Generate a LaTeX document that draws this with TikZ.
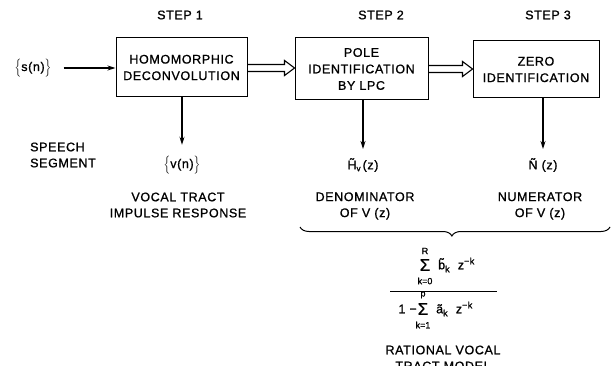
\documentclass[tikz,border=0pt]{standalone}
\usepackage{fontspec}
\setmainfont{Liberation Sans}[LetterSpace=5, FakeBold=1]
\newfontfamily\tightfont{Liberation Sans}[FakeBold=1]
\usetikzlibrary{arrows.meta,decorations.pathreplacing,calc}
\tikzset{
  lbl/.style={font=\fontsize{12.5}{16}\selectfont, align=center, inner sep=0pt},
  blk/.style={draw, line width=1pt, rectangle, font=\fontsize{12.5}{16.5}\selectfont, align=center, inner sep=0pt},
  arr/.style={line width=1.3pt, -{Stealth[length=8pt,width=5pt]}},
  fat/.style={line width=1.1pt},
  mth/.style={font=\fontsize{12.5}{14}\selectfont, inner sep=0pt},
  sm/.style={font=\tightfont\fontsize{9}{9}\selectfont, inner sep=0pt},
  sig/.style={font=\tightfont\fontsize{17}{17}\selectfont, inner sep=0pt},
}
\begin{document}
\begin{tikzpicture}[x=1pt,y=1pt]
\useasboundingbox (0,0) rectangle (615,-366);
% step titles
\node[lbl] (st1) at (180,-15) {STEP 1};
\node[lbl] (st2) at (381,-15) {STEP 2};
\node[lbl] (st3) at (548,-15) {STEP 3};
% boxes
\node[blk, minimum width=131pt, minimum height=59pt] (b1) at (181.5,-67.5) {HOMOMORPHIC\\DECONVOLUTION};
\node[blk, minimum width=133pt, minimum height=62pt] (b2) at (361.5,-69) {POLE\\IDENTIFICATION\\BY LPC};
\node[blk, minimum width=126pt, minimum height=57pt] (b3) at (536,-69.5) {ZERO\\IDENTIFICATION};
% input
\node[mth] (s) at (33,-68) {$\Bigl\{$s(n)$\Bigr\}$};
\draw[arr, shorten <=12pt] (s) -- (b1.west |- s);
% hollow arrows
\foreach \a/\b/\y in {b1/b2/-68, b2/b3/-69}{
  \coordinate (p) at (\a.east |- 0,\y);
  \coordinate (q) at (\b.west |- 0,\y);
  \draw[fat, line join=miter] ($(p)+(0,3.5)$) -- ($(q)+(-10,3.5)$) -- ($(q)+(-10,7.5)$) -- (q)
     -- ($(q)+(-10,-7.5)$) -- ($(q)+(-10,-3.5)$) -- ($(p)+(0,-3.5)$);
}
% outputs
\node[mth] (v) at (182,-165) {$\Bigl\{$v(n)$\Bigr\}$};
\node[mth] (h) at (363,-165) {\~H\raisebox{-2pt}{\fontsize{8}{9}\selectfont v}\,(z)};
\node[mth] (n) at (543,-165) {\~N (z)};
\draw[arr, shorten >=11pt] (b1.south -| v) -- (v);
\draw[arr, shorten >=9pt] (b2.south -| h) -- (h);
\draw[arr, shorten >=9pt] (b3.south -| n) -- (n);
% labels
\node[lbl, align=left, anchor=west] (sp) at (30,-155) {SPEECH\\SEGMENT};
\node[lbl] (vt) at (178,-205) {VOCAL TRACT\\IMPULSE RESPONSE};
\node[lbl] (dn) at (365,-206) {DENOMINATOR\\OF V (z)};
\node[lbl] (nm) at (540,-206) {NUMERATOR\\OF V (z)};
% brace
\draw[line width=1pt, decorate, decoration={brace, mirror, amplitude=9pt, aspect=0.49}] (300,-227) -- (610,-227);
% fraction
\node[sig] (s1) at (425,-265) {Σ};
\node[sm] (r) at (425,-251) {R};
\node[sm] (k0) at (425,-281) {k=0};
\node[mth, anchor=west] (nb) at (438,-265) {\~b\raisebox{-3pt}{\fontsize{9}{9}\selectfont k}\ \ z\raisebox{5pt}{\fontsize{9}{9}\selectfont −k}};
\coordinate (fl) at (390,-291);
\coordinate (fr) at (497,-291);
\draw[line width=1pt] (fl) -- (fr);
\node[mth, anchor=east] (one) at (417,-309) {1 −};
\node[sig] (s2) at (423,-309) {Σ};
\node[sm] (pp) at (423,-295) {p};
\node[sm] (k1) at (423,-325) {k=1};
\node[mth, anchor=west] (da) at (436,-309) {\~a\raisebox{-3pt}{\fontsize{9}{9}\selectfont k}\ \ z\raisebox{5pt}{\fontsize{9}{9}\selectfont −k}};
\node[lbl] (rv) at (443,-358) {RATIONAL VOCAL\\TRACT MODEL};
\end{tikzpicture}
\end{document}
